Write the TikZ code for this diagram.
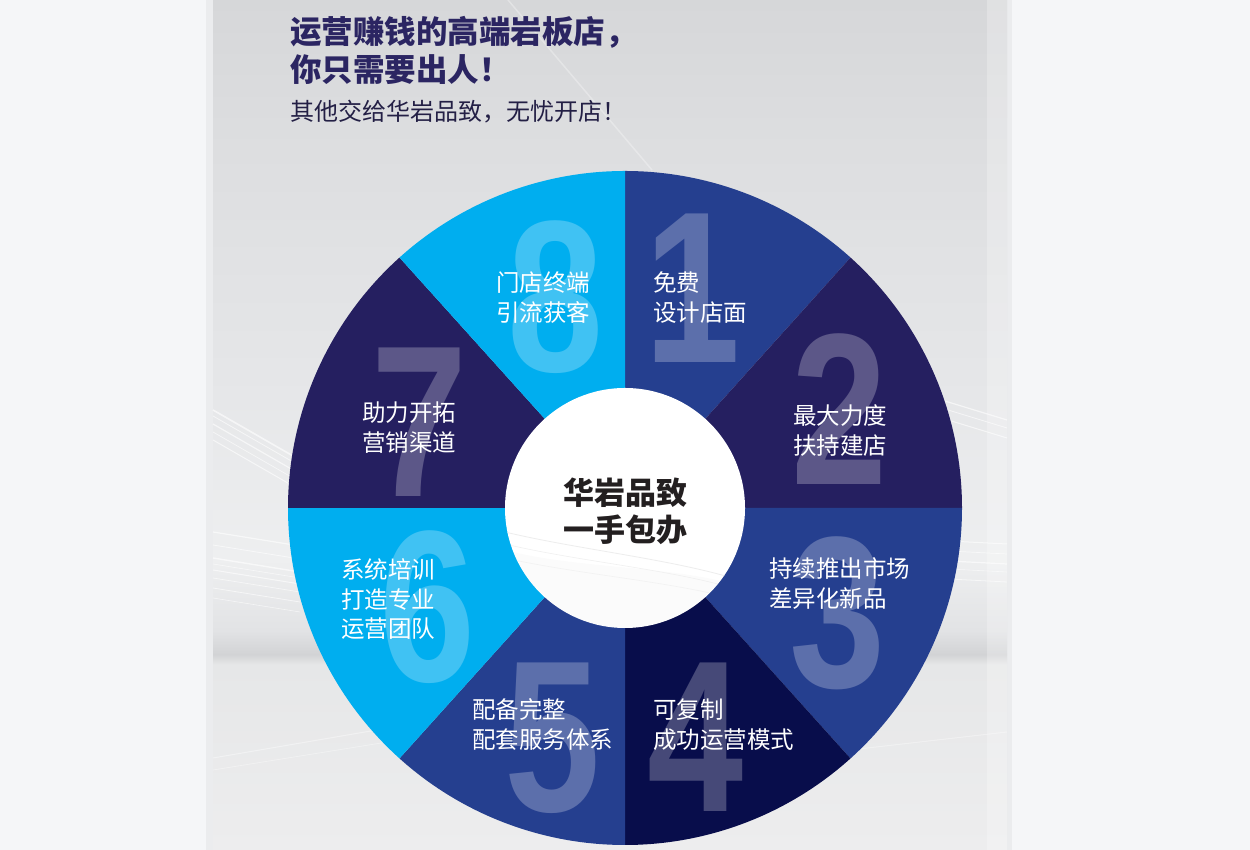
\documentclass[tikz,border=0pt]{standalone}
\usepackage{fontspec}
\usepackage{graphicx}
\newfontfamily\cjk{Noto Sans CJK SC}
\newfontfamily\numfont{Liberation Sans}
\definecolor{outerbg}{HTML}{F5F6F8}
\definecolor{secmid}{HTML}{253F8F}
\definecolor{secdark}{HTML}{251F60}
\definecolor{seccyan}{HTML}{00AEEF}
\definecolor{secnavy}{HTML}{080D4B}
\definecolor{titlecol}{HTML}{2B2562}
\definecolor{subcol}{HTML}{231F45}
\definecolor{centercol}{HTML}{231F20}
\definecolor{pbA}{HTML}{D6D7D9}
\definecolor{pbB}{HTML}{DDDEE0}
\definecolor{pbC}{HTML}{E6E7E9}
\definecolor{pbD}{HTML}{EEEFF0}
\definecolor{pbE}{HTML}{E2E3E5}
\definecolor{pbF}{HTML}{D2D3D5}
\definecolor{pbG}{HTML}{E6E7E8}
\definecolor{pbH}{HTML}{EDEDEE}
\pgfdeclareverticalshading{panelbg}{100bp}{color(0bp)=(pbH); color(25bp)=(pbH); color(35.9bp)=(pbG); color(36.5bp)=(pbF); color(37.9bp)=(pbE); color(42.1bp)=(pbD); color(51.5bp)=(pbC); color(66.2bp)=(pbB); color(75bp)=(pbA); color(100bp)=(pbA)}
\tikzset{
  lab/.style={text=white, font=\cjk\fontsize{23.5}{29.5}\selectfont, align=left, anchor=base west, inner sep=0pt},
  digit/.style={font=\numfont\bfseries\fontsize{216}{216}\selectfont, anchor=base, inner sep=0pt},
  streak/.style={white, opacity=0.6}
}
\begin{document}
\begin{tikzpicture}[x=1pt,y=1pt]
\useasboundingbox (0,0) rectangle (1250,850);
% page background
\fill[outerbg] (0,0) rectangle (1250,850);
% panel shadows
\fill[black, opacity=0.04] (206,0) rectangle (213,850);
\fill[black, opacity=0.04] (1007,0) rectangle (1012,850);
% panel
\shade[shading=panelbg] (213,0) rectangle (1007,850);
\draw[white, line width=1.5pt, opacity=0.3] (508,850) -- (652,680);
\fill[white, opacity=0.25] (987,0) rectangle (1007,850);
% background streaks (left)
\foreach \k/\ww in {0/1.6, 6/0.8, 14/1.2, 22/0.7, 30/1.0}{
  \draw[streak, line width=\ww pt] (213,440-\k) -- (300,390-\k);
}
\foreach \yy/\ww in {318/1.2, 305/0.8, 292/1.4, 286/0.6, 280/1.0, 272/0.7, 262/0.8, 252/0.6}{
  \draw[streak, line width=\ww pt] (213,\yy) -- (300,\yy-14);
}
% background streaks (right)
\foreach \k/\ww in {0/1.2, 8/0.8, 18/1.0}{
  \draw[streak, line width=\ww pt] (935,452-\k) -- (1007,430-\k);
}
\foreach \yy/\ww in {310/1.0, 300/0.7, 290/1.2, 282/0.6, 272/0.8}{
  \draw[streak, line width=\ww pt] (930,\yy) -- (1007,\yy-4);
}
\draw[white, line width=1pt, opacity=0.4] (213,92) -- (400,124);
\draw[white, line width=0.8pt, opacity=0.35] (213,80) -- (400,110);
\draw[white, line width=1pt, opacity=0.35] (850,100) -- (1007,118);
% sectors
\coordinate (C) at (625,342);
\foreach \a/\b/\c in {90/48/secmid, 48/0/secdark, 0/-48/secmid, -48/-90/secnavy, -90/-132/secmid, -132/-180/seccyan, 180/132/secdark, 132/90/seccyan}{
  \fill[\c] (C) -- ++(\a:337) arc[start angle=\a, end angle=\b, radius=337] -- cycle;
}
% big numbers
\node[digit, text=white!25!secmid]  (n1) at (693,487) {\scalebox{0.8}[1]{1}};
\node[digit, text=white!25!secdark] (n2) at (840,365) {\scalebox{0.8}[1]{2}};
\node[digit, text=white!25!secmid]  (n3) at (838,162) {\scalebox{0.8}[1]{3}};
\node[digit, text=white!25!secnavy] (n4) at (696,38)  {\scalebox{0.8}[1]{4}};
\node[digit, text=white!25!secmid]  (n5) at (553,38)  {\scalebox{0.8}[1]{5}};
\node[digit, text=white!25!seccyan] (n6) at (428,168) {\scalebox{0.8}[1]{6}};
\node[digit, text=white!25!secdark] (n7) at (420,353) {\scalebox{0.8}[1]{7}};
\node[digit, text=white!25!seccyan] (n8) at (556,478) {\scalebox{0.8}[1]{8}};
% inner circle
\fill[white] (C) circle[radius=120];
\begin{scope}
  \clip (C) circle[radius=120];
  \fill[black, opacity=0.015] (505,300) .. controls (580,280) and (680,285) .. (745,262) -- (745,222) -- (505,222) -- cycle;
  \draw[black!7, line width=0.8pt] (505,318) .. controls (580,300) and (680,290) .. (745,268);
  \draw[black!6, line width=0.6pt] (505,306) .. controls (580,288) and (680,280) .. (745,258);
  \draw[black!5, line width=0.6pt] (505,292) .. controls (580,275) and (680,268) .. (745,248);
\end{scope}
% centre text
\node[font=\cjk\bfseries\fontsize{31}{37}\selectfont, text=centercol, align=center, anchor=base, inner sep=0pt] (ctr) at (625,308) {华岩品致\\一手包办};
% sector labels (anchor = baseline of the last line)
\node[lab] (l1) at (653,528.5) {免费\\设计店面};
\node[lab] (l2) at (793,395.5) {最大力度\\扶持建店};
\node[lab] (l3) at (769,242.5) {持续推出市场\\差异化新品};
\node[lab] (l4) at (653,101.5) {可复制\\成功运营模式};
\node[lab] (l5) at (472,101.5) {配备完整\\配套服务体系};
\node[lab] (l6) at (341,212) {系统培训\\打造专业\\运营团队};
\node[lab] (l7) at (362,398.5) {助力开拓\\营销渠道};
\node[lab] (l8) at (496,528.5) {门店终端\\引流获客};
% titles
\node[anchor=base west, inner sep=0pt, align=left, font=\cjk\bfseries\fontsize{31.5}{38}\selectfont, text=titlecol] (t1) at (290,768.5) {运营赚钱的高端岩板店，\\你只需要出人！};
\node[anchor=base west, inner sep=0pt, font=\cjk\fontsize{24}{28}\selectfont, text=subcol] (t3) at (290,729.3) {其他交给华岩品致，无忧开店！};
\end{tikzpicture}
\end{document}
